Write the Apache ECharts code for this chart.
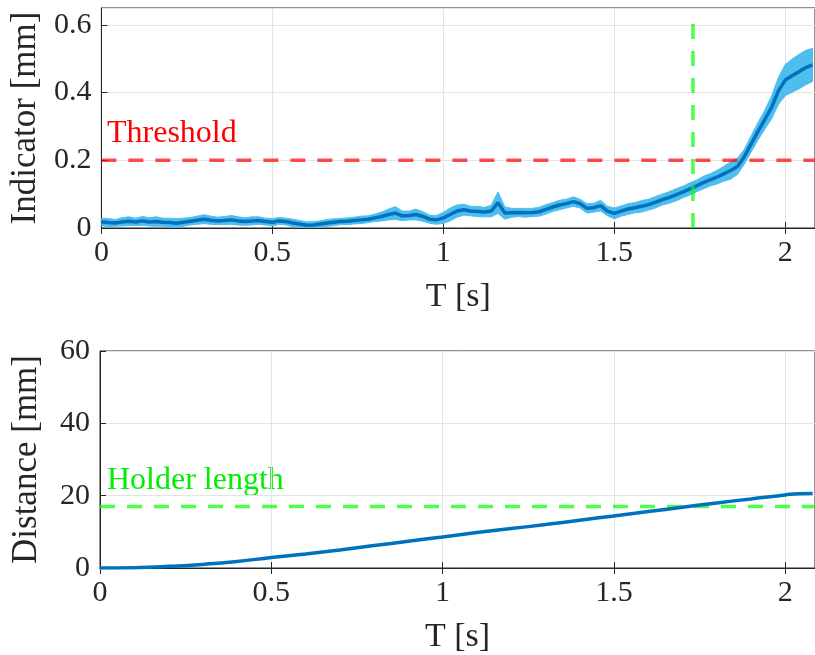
<!DOCTYPE html>
<html>
<head>
<meta charset="utf-8">
<script src="https://cdn.jsdelivr.net/npm/echarts@6/dist/echarts.min.js"></script>
<style>
  html, body { margin: 0; padding: 0; background: #fff; }
  #chart-container { width: 815px; height: 655px; }
</style>
</head>
<body>
<div id="chart-container"></div>
<script>
// time grid of the indicator (s)
const indT = [0.00,0.02,0.04,0.06,0.08,0.10,0.12,0.14,0.16,0.18,0.20,0.22,0.24,0.26,0.28,0.30,0.32,0.34,0.36,0.38,
  0.40,0.42,0.44,0.46,0.48,0.50,0.52,0.54,0.56,0.58,0.60,0.62,0.64,0.66,0.68,0.70,0.72,0.74,0.76,0.78,
  0.80,0.82,0.84,0.86,0.88,0.90,0.92,0.94,0.96,0.98,1.00,1.02,1.04,1.06,1.08,1.10,1.12,1.14,1.16,1.18,
  1.20,1.22,1.24,1.26,1.28,1.30,1.32,1.34,1.36,1.38,1.40,1.42,1.44,1.46,1.48,1.50,1.52,1.54,1.56,1.58,
  1.60,1.62,1.64,1.66,1.68,1.70,1.72,1.74,1.76,1.78,1.80,1.82,1.84,1.86,1.88,1.90,1.92,1.94,1.96,1.98,
  2.00,2.02,2.04,2.06,2.08];
// mean indicator (mm)
const indMean = [0.018,0.016,0.015,0.018,0.020,0.018,0.021,0.018,0.019,0.017,0.016,0.014,0.017,0.020,0.023,0.026,0.023,0.021,0.022,0.024,
  0.021,0.019,0.021,0.022,0.019,0.017,0.021,0.019,0.015,0.012,0.008,0.009,0.012,0.015,0.017,0.019,0.020,0.022,0.024,0.026,
  0.030,0.034,0.040,0.044,0.036,0.037,0.040,0.034,0.026,0.024,0.030,0.040,0.050,0.054,0.050,0.049,0.047,0.050,0.075,0.044,
  0.045,0.046,0.045,0.046,0.048,0.055,0.062,0.068,0.072,0.078,0.072,0.058,0.060,0.066,0.050,0.043,0.050,0.056,0.060,0.064,
  0.069,0.076,0.084,0.090,0.098,0.106,0.115,0.124,0.134,0.142,0.150,0.160,0.170,0.182,0.210,0.248,0.285,0.320,0.356,0.405,
  0.437,0.450,0.462,0.474,0.482];
// half width of the spread band (mm)
const indSpread = [0.011,0.012,0.010,0.012,0.013,0.011,0.013,0.012,0.014,0.012,0.013,0.014,0.012,0.011,0.012,0.013,0.012,0.011,0.012,0.013,
  0.012,0.011,0.012,0.011,0.010,0.011,0.010,0.010,0.011,0.010,0.010,0.010,0.009,0.010,0.010,0.009,0.010,0.010,0.011,0.010,
  0.011,0.013,0.016,0.019,0.014,0.013,0.016,0.014,0.012,0.013,0.016,0.019,0.018,0.016,0.014,0.015,0.014,0.017,0.032,0.018,
  0.013,0.012,0.013,0.012,0.013,0.014,0.013,0.014,0.013,0.014,0.013,0.014,0.013,0.016,0.014,0.016,0.015,0.016,0.015,0.017,
  0.016,0.017,0.016,0.017,0.018,0.017,0.018,0.017,0.019,0.018,0.020,0.022,0.026,0.024,0.022,0.024,0.026,0.028,0.034,0.040,
  0.046,0.049,0.051,0.051,0.049];

// distance curve
const distT = [0,0.1,0.2,0.3,0.4,0.5,0.6,0.7,0.8,0.9,1.0,1.1,1.2,1.3,1.4,1.5,1.6,1.7,1.8,1.9,2.0,2.04,2.08];
const distVal = [0,0.1,0.45,1.0,1.8,2.9,3.9,5.0,6.2,7.4,8.6,9.8,10.9,12.0,13.2,14.4,15.6,16.8,18.0,19.1,20.2,20.55,20.6];

const threshold = 0.2;
const cutoffT = 1.73;
const cutoffTop = 0.61;
const holderLength = 17;
const tMax = 2.087;

const serif = "Liberation Serif";
const ink = "#262626";

var dom = document.getElementById("chart-container");
var myChart = echarts.init(dom, null, { renderer: "canvas" });

const mean = indT.map((t, i) => [t, indMean[i]]);
const dist = distT.map((t, i) => [t, distVal[i]]);

// spread band as one polygon, placed through the axes
function renderBand(params, api) {
  const pts = [];
  for (let i = 0; i < indT.length; i++) pts.push(api.coord([indT[i], indMean[i] + indSpread[i]]));
  for (let i = indT.length - 1; i >= 0; i--) pts.push(api.coord([indT[i], indMean[i] - indSpread[i]]));
  return {
    type: "polygon",
    shape: { points: pts },
    style: { fill: "#4dbeee", stroke: "#4dbeee", lineWidth: 1 },
    clipPath: { type: "rect", shape: { x: params.coordSys.x, y: params.coordSys.y, width: params.coordSys.width, height: params.coordSys.height } },
  };
}

function xAx(gridIndex) {
  return {
    type: "value", gridIndex: gridIndex, min: 0, max: tMax, interval: 0.5,
    name: "T [s]", nameLocation: "middle", nameGap: 52,
    nameTextStyle: { fontFamily: serif, fontSize: 34, color: ink },
    axisLine: { onZero: false, lineStyle: { color: ink, width: 1 } },
    axisTick: { inside: true, length: 6, lineStyle: { color: ink } },
    axisLabel: { fontFamily: serif, fontSize: 30, color: ink, margin: 10, showMaxLabel: false },
    splitLine: { show: true, lineStyle: { color: "#e4e4e4" } },
  };
}
function topAx(gridIndex) {
  return {
    type: "value", gridIndex: gridIndex, position: "top", min: 0, max: tMax, interval: 0.5,
    axisLine: { lineStyle: { color: ink } },
    axisTick: { inside: true, length: 6, lineStyle: { color: ink } },
    axisLabel: { show: false }, splitLine: { show: false },
  };
}
function yAx(gridIndex, max, interval, name, showMax) {
  return {
    type: "value", gridIndex: gridIndex, min: 0, max: max, interval: interval,
    name: name, nameLocation: "middle", nameGap: 56,
    nameTextStyle: { fontFamily: serif, fontSize: 35, color: ink },
    axisLine: { show: true, lineStyle: { color: ink } },
    axisTick: { show: true, inside: true, length: 6, lineStyle: { color: ink } },
    axisLabel: { fontFamily: serif, fontSize: 30, color: ink, margin: 10, showMaxLabel: showMax },
    splitLine: { show: true, lineStyle: { color: "#e4e4e4" } },
  };
}

var option = {
  animation: false,
  grid: [
    { left: 100, right: -2, top: 8, height: 220, show: true, borderColor: ink, borderWidth: 1 },
    { left: 100, right: -2, top: 351, height: 219, show: true, borderColor: ink, borderWidth: 1 },
  ],
  xAxis: [xAx(0), xAx(1), topAx(0), topAx(1)],
  yAxis: [yAx(0, 0.65, 0.2, "Indicator [mm]", false), yAx(1, 60, 20, "Distance [mm]", true)],
  graphic: [
    { type: "text", left: 107, top: 118, style: { text: "Threshold", fill: "#ff0000", font: "32px " + serif } },
    { type: "text", left: 107, top: 465, style: { text: "Holder length", fill: "#00ee00", font: "32px " + serif } },
  ],
  series: [
    {
      type: "custom", xAxisIndex: 0, yAxisIndex: 0, data: [[0, 0]], renderItem: renderBand, z: 2, silent: true,
    },
    {
      type: "line", xAxisIndex: 0, yAxisIndex: 0, data: [[0, threshold], [tMax, threshold]],
      symbol: "none", lineStyle: { color: "rgba(255,0,0,0.7)", width: 3.5, type: [15, 12] }, z: 3,
    },
    {
      type: "line", xAxisIndex: 0, yAxisIndex: 0, data: mean,
      symbol: "none", lineStyle: { color: "#0072bd", width: 3.5 }, z: 4,
    },
    {
      type: "line", xAxisIndex: 0, yAxisIndex: 0, data: [[cutoffT, 0], [cutoffT, cutoffTop]],
      symbol: "none", lineStyle: { color: "rgba(0,255,0,0.7)", width: 3.5, type: [15, 12] }, z: 5,
    },
    {
      type: "line", xAxisIndex: 1, yAxisIndex: 1, data: [[0, holderLength], [tMax, holderLength]],
      symbol: "none", lineStyle: { color: "rgba(0,255,0,0.7)", width: 3.5, type: [15, 12] }, z: 3,
    },
    {
      type: "line", xAxisIndex: 1, yAxisIndex: 1, data: dist, smooth: true,
      symbol: "none", lineStyle: { color: "#0072bd", width: 3.5 }, z: 4,
    },
  ],
};

myChart.setOption(option);
window.addEventListener("resize", myChart.resize);
</script>
</body>
</html>
